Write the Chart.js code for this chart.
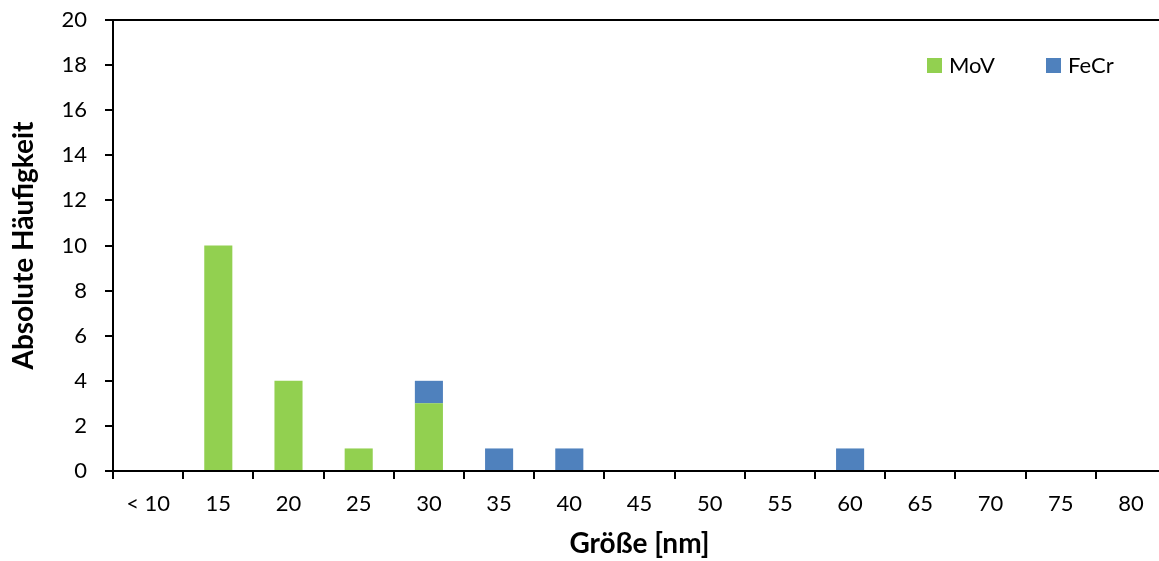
<!DOCTYPE html>
<html>
<head>
<meta charset="utf-8">
<script src="https://cdn.jsdelivr.net/npm/chart.js@4.4.1/dist/chart.umd.min.js"></script>
<style>
  html, body { margin: 0; padding: 0; background: #fff; overflow: hidden; }
  #wrap { position: relative; width: 1175px; height: 561px; }
</style>
</head>
<body>
<div id="wrap"><canvas id="c"></canvas></div>
<script>
// Size classes (nm) and counts per particle type
const categories = ['< 10', '15', '20', '25', '30', '35', '40', '45', '50', '55', '60', '65', '70', '75', '80'];
const movCounts  = [0, 10, 4, 1, 3, 0, 0, 0, 0, 0, 0, 0, 0, 0, 0];
const fecrCounts = [0, 0, 0, 0, 1, 1, 1, 0, 0, 0, 1, 0, 0, 0, 0];
const yTicks = [0, 2, 4, 6, 8, 10, 12, 14, 16, 18, 20];

const FONT = 'Lato, "Open Sans", sans-serif';
const GREEN = '#92D050';
const BLUE = '#4F81BD';

// Top frame line and an in-plot legend
const framePlugin = {
  id: 'frame',
  afterDraw(chart) {
    const { ctx, chartArea } = chart;
    ctx.save();
    ctx.strokeStyle = '#000';
    ctx.lineWidth = 2;
    ctx.beginPath();
    ctx.moveTo(chartArea.left, chartArea.top);
    ctx.lineTo(chartArea.right, chartArea.top);
    ctx.stroke();

    // legend
    ctx.font = '22px ' + FONT;
    ctx.textBaseline = 'middle';
    const items = chart.data.datasets.map(d => ({ label: d.label, color: d.backgroundColor }));
    const xs = [927, 1046];
    items.forEach((it, i) => {
      ctx.fillStyle = it.color;
      ctx.fillRect(xs[i], 58, 15, 15);
      ctx.fillStyle = '#000';
      ctx.fillText(it.label, xs[i] + 22, 66);
    });
    ctx.restore();
  }
};

new Chart(document.getElementById('c'), {
  type: 'bar',
  data: {
    labels: categories,
    datasets: [
      { label: 'MoV', data: movCounts, backgroundColor: GREEN, borderWidth: 0 },
      { label: 'FeCr', data: fecrCounts, backgroundColor: BLUE, borderWidth: 0 }
    ]
  },
  options: {
    responsive: true,
    maintainAspectRatio: false,
    animation: false,
    layout: { padding: { left: 0, top: 20, right: 9, bottom: 0 } },
    plugins: {
      legend: { display: false },
      tooltip: { enabled: false }
    },
    datasets: { bar: { barPercentage: 0.4, categoryPercentage: 1.0 } },
    scales: {
      x: {
        stacked: true,
        offset: true,
        grid: {
          display: true, drawOnChartArea: false, drawTicks: true,
          tickLength: 8, color: '#000', lineWidth: 2, offset: true
        },
        border: { display: true, color: '#000', width: 2 },
        ticks: { color: '#000', font: { family: FONT, size: 22 }, padding: 12, maxRotation: 0, autoSkip: false },
        title: {
          display: true, text: 'Größe [nm]', color: '#000',
          font: { family: FONT, size: 28, weight: 'bold' }, padding: { top: 4, bottom: 0 }
        },
        afterFit(scale) { scale.height = 90; scale.paddingLeft = 0; scale.paddingRight = 0; }
      },
      y: {
        stacked: true,
        min: 0, max: 20,
        afterBuildTicks(scale) { scale.ticks = yTicks.map(v => ({ value: v })); },
        grid: {
          display: true, drawOnChartArea: false, drawTicks: true,
          tickLength: 8, color: '#000', lineWidth: 2
        },
        border: { display: true, color: '#000', width: 2 },
        ticks: { color: '#000', font: { family: FONT, size: 22 }, padding: 18 },
        title: {
          display: true, text: 'Absolute Häufigkeit', color: '#000',
          font: { family: FONT, size: 28, weight: 'bold' }, padding: { top: 7, bottom: 0 }
        },
        afterFit(scale) { scale.width = 113; scale.paddingTop = 0; scale.paddingBottom = 0; }
      }
    }
  },
  plugins: [framePlugin]
});
</script>
</body>
</html>
